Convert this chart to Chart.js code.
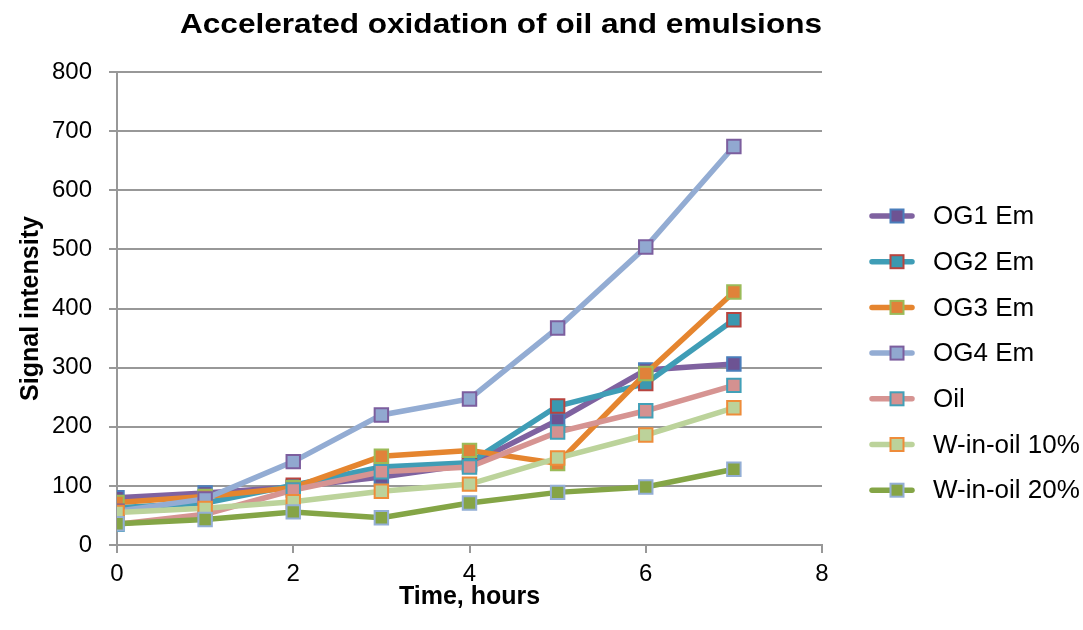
<!DOCTYPE html>
<html>
<head>
<meta charset="utf-8">
<script src="https://cdn.jsdelivr.net/npm/chart.js@4.4.1/dist/chart.umd.min.js"></script>
<style>
  html, body { margin: 0; padding: 0; background: #ffffff; }
  #wrap { width: 1083px; height: 630px; position: relative; }
</style>
</head>
<body>
<div id="wrap"><canvas id="chart" width="1083" height="630"></canvas></div>
<script>
// Time points (hours) and measured signal intensity for each sample
const hours = [0, 1, 2, 3, 4, 5, 6, 7];
const og1Em = [80, 88, 98, 115, 136, 211, 296, 306];
const og2Em = [63, 71, 101, 132, 139, 235, 273, 381];
const og3Em = [72, 82, 97, 150, 160, 138, 290, 428];
const og4Em = [57, 78, 141, 220, 247, 367, 504, 674];
const oilSeries = [35, 52, 93, 124, 132, 191, 227, 270];
const wInOil10 = [55, 62, 73, 91, 103, 147, 186, 232];
const wInOil20 = [36, 43, 56, 46, 71, 89, 98, 128];

const seriesNames = ['OG1 Em', 'OG2 Em', 'OG3 Em', 'OG4 Em', 'Oil', 'W-in-oil 10%', 'W-in-oil 20%'];
const seriesValues = [og1Em, og2Em, og3Em, og4Em, oilSeries, wInOil10, wInOil20];

const titleText = 'Accelerated oxidation of oil and emulsions';
const xTitle = 'Time, hours';
const yTitle = 'Signal intensity';
const xMin = 0, xMax = 8, xStep = 2;
const yMin = 0, yMax = 800, yStep = 100;

// line colour, marker fill, marker border
const styles = [
  ['#7f62a0', '#6d5393', '#4a7ebb'],
  ['#3f9db6', '#3b98b0', '#b8443f'],
  ['#e5852f', '#e0823a', '#9bbb59'],
  ['#93acd3', '#91a8d0', '#7c5e9e'],
  ['#d69492', '#d49190', '#42a0b8'],
  ['#bcd39b', '#bcd29a', '#ee8c3a'],
  ['#84a546', '#86a446', '#93aed5']
];

const FONT = '"Liberation Sans", Arial, Helvetica, sans-serif';
const GRID = '#989898';

const datasets = seriesNames.map((name, i) => ({
  label: name,
  data: hours.map((h, k) => ({ x: h, y: seriesValues[i][k] })),
  borderColor: styles[i][0],
  backgroundColor: styles[i][1],
  pointBackgroundColor: styles[i][1],
  pointBorderColor: styles[i][2],
  pointBorderWidth: 2,
  pointStyle: 'rect',
  pointRadius: 9.5,
  pointHoverRadius: 9.5,
  borderWidth: 5.5,
  tension: 0,
  order: seriesNames.length - i
}));

// Chart title drawn centred over the plot, slightly widened like the original typeface
const titlePlugin = {
  id: 'chartTitle',
  afterDraw(chart) {
    const ctx = chart.ctx;
    ctx.save();
    ctx.font = 'bold 27px ' + FONT;
    ctx.fillStyle = '#000';
    ctx.textBaseline = 'alphabetic';
    ctx.textAlign = 'left';
    const w = ctx.measureText(titleText).width;
    const targetW = 642;
    const sx = targetW / w;
    const left = 501 - targetW / 2;
    ctx.translate(left, 33);
    ctx.scale(sx, 1);
    ctx.fillText(titleText, 0, 0);
    ctx.restore();
  }
};

// Legend on the right: a short line with the square marker, then the series name
const legendPlugin = {
  id: 'sideLegend',
  afterDraw(chart) {
    const ctx = chart.ctx;
    const top = 216, step = 45.7;
    ctx.save();
    chart.data.datasets.forEach((ds, i) => {
      const y = top + i * step;
      ctx.strokeStyle = ds.borderColor;
      ctx.lineWidth = 5.5;
      ctx.lineCap = 'round';
      ctx.beginPath();
      ctx.moveTo(872, y);
      ctx.lineTo(912, y);
      ctx.stroke();
      const s = 13;
      ctx.fillStyle = ds.pointBackgroundColor;
      ctx.fillRect(897 - s / 2, y - s / 2, s, s);
      ctx.lineWidth = 2;
      ctx.strokeStyle = ds.pointBorderColor;
      ctx.strokeRect(897 - s / 2, y - s / 2, s, s);
      ctx.fillStyle = '#000';
      ctx.font = '26px ' + FONT;
      ctx.textBaseline = 'middle';
      ctx.textAlign = 'left';
      ctx.fillText(ds.label, 933, y + 1);
    });
    ctx.restore();
  }
};

new Chart(document.getElementById('chart'), {
  type: 'line',
  data: { datasets },
  plugins: [titlePlugin, legendPlugin],
  options: {
    responsive: false,
    animation: false,
    events: [],
    layout: { padding: { top: 72, right: 261, bottom: 0, left: 0 } },
    plugins: {
      legend: { display: false },
      title: { display: false },
      tooltip: { enabled: false }
    },
    scales: {
      x: {
        type: 'linear',
        min: xMin,
        max: xMax,
        afterFit(scale) { scale.height = 85; },
        ticks: {
          stepSize: xStep,
          color: '#000',
          padding: 7,
          font: { family: FONT, size: 24 },
          maxRotation: 0
        },
        grid: {
          drawOnChartArea: false,
          drawTicks: true,
          tickLength: 8,
          tickColor: GRID,
          lineWidth: 2
        },
        border: { display: true, color: GRID, width: 2 },
        title: {
          display: true,
          text: xTitle,
          color: '#000',
          font: { family: FONT, size: 25, weight: 'bold' },
          padding: { top: 0, bottom: 18 }
        }
      },
      y: {
        min: yMin,
        max: yMax,
        afterFit(scale) { scale.width = 117; },
        ticks: {
          stepSize: yStep,
          color: '#000',
          padding: 17,
          font: { family: FONT, size: 24 }
        },
        grid: {
          color: GRID,
          lineWidth: 2,
          tickLength: 8,
          tickColor: GRID
        },
        border: { display: true, color: GRID, width: 2 },
        title: {
          display: true,
          text: yTitle,
          color: '#000',
          font: { family: FONT, size: 25, weight: 'bold' },
          padding: { top: 16, bottom: 0 }
        }
      }
    }
  }
});
</script>
</body>
</html>
